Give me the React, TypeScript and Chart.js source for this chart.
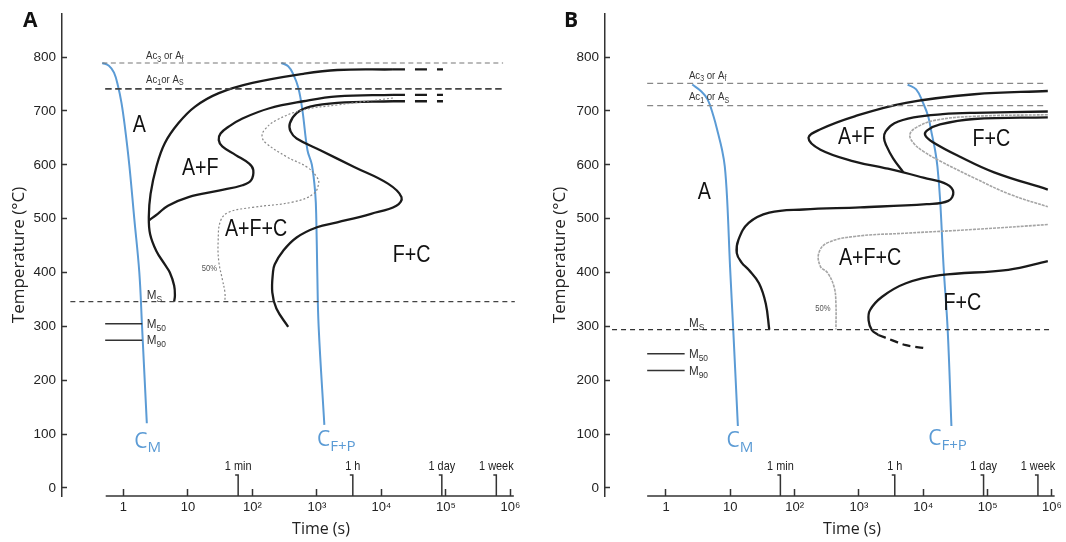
import React, { useEffect, useRef } from "react";
import { Chart, registerables } from "chart.js";

Chart.register(...registerables);

type Pt = [number, number];

// ---------- shared axis data ----------
const X_TICKS = [1, 10, 100, 1000, 10000, 100000, 1000000];
const X_TICK_LABELS = ["1", "10", "10²", "10³", "10⁴", "10⁵", "10⁶"];
const Y_TICKS = [0, 100, 200, 300, 400, 500, 600, 700, 800];
const TIME_MARKS = [60, 3600, 86400, 604800];
const TIME_MARK_LABELS = ["1 min", "1 h", "1 day", "1 week"];

// ---------- panel A data (time s, temperature °C) ----------
const A_TIME_AXIS = [0.53, 1130000];
const A_AC3: Pt[] = [[0.47, 789], [770000, 789]];
const A_AC1: Pt[] = [[0.52, 741], [770000, 741]];
const A_MS: Pt[] = [[0.15, 346], [1170000, 346]];
const A_M50: Pt[] = [[0.52, 305], [1.95, 305]];
const A_M90: Pt[] = [[0.52, 274], [1.95, 274]];
const A_CURVE_1: Pt[] = [[6.1, 346], [6.27, 357], [6.1, 376], [5.23, 400], [4.37, 415], [3.23, 440], [2.59, 471], [2.47, 503], [2.63, 546], [3.23, 596], [4.37, 640], [7.08, 677], [12.9, 708], [30.1, 733], [100, 752], [617, 769], [2065, 776], [15100, 777]];
const A_CURVE_2: Pt[] = [[15100, 730], [2065, 727], [617, 718], [184, 705], [70, 686], [43, 671], [32, 658], [30, 646], [34, 634], [55, 618], [89, 602], [103, 590], [95, 571], [70, 562], [30, 552], [10.2, 540], [4.9, 524], [3.4, 509], [2.5, 497]];
const A_CURVE_3: Pt[] = [[15100, 718], [2065, 715], [785, 708], [484, 696], [380, 677], [390, 662], [484, 649], [1127, 627], [3776, 596], [12620, 565], [20460, 540], [17060, 524], [6900, 509], [2065, 493], [1000, 484], [484, 465], [298, 440], [221, 415], [208, 400], [203, 363], [235, 333], [358, 299]];
const A_DASH_1: Pt[] = [[15100, 777], [90000, 777]];
const A_DASH_2: Pt[] = [[15100, 730], [90000, 730]];
const A_DASH_3: Pt[] = [[15100, 718], [90000, 718]];
const A_HALF: Pt[] = [[15100, 724], [2065, 711], [617, 702], [235, 683], [154, 665], [141, 652], [163, 640], [337, 615], [697, 596], [1000, 577], [1062, 565], [885, 546], [430, 531], [101, 521], [43, 512], [32, 496], [29.4, 459], [30, 421], [34, 388], [37.4, 363], [37.4, 346]];
const A_CM: Pt[] = [[0.468, 789], [0.594, 784], [0.713, 771], [0.824, 746], [0.931, 715], [1.05, 671], [1.23, 600], [1.47, 500], [1.76, 400], [1.94, 300], [2.3, 120]];
const A_CFP: Pt[] = [[281, 789], [358, 783], [430, 768], [514, 743], [594, 702], [713, 627], [834, 600], [942, 546], [977, 500], [1012, 400], [1062, 300], [1303, 117]];
const A_REGION_LABELS: [string, number, number][] = [["A", 1.76, 674], ["A+F", 15.5, 593], ["A+F+C", 114, 481], ["F+C", 29400, 431]];
const A_NOTE_LABELS: [string, number, number][] = [["Ac_{3} or A_{f}", 2.24, 802], ["Ac_{1}or A_{S}", 2.24, 758]];
const A_M_LABELS: [string, number, number][] = [["M_{S}", 2.3, 358], ["M_{50}", 2.3, 304], ["M_{90}", 2.3, 273]];
const A_PCT_LABELS: [string, number, number][] = [["50%", 21.4, 407]];
const A_BLUE_LABELS: [string, number, number][] = [["C_{M}", 1.47, 86], ["C_{F+P}", 1000, 89]];

// ---------- panel B data ----------
const B_TIME_AXIS = [0.51, 1100000];
const B_AC3: Pt[] = [[0.51, 751], [810000, 751]];
const B_AC1: Pt[] = [[0.51, 710], [810000, 710]];
const B_MS: Pt[] = [[0.145, 294], [1035000, 294]];
const B_M50: Pt[] = [[0.51, 249], [1.95, 249]];
const B_M90: Pt[] = [[0.51, 218], [1.95, 218]];
const B_CURVE_1: Pt[] = [[861000, 737], [62100, 731], [5370, 715], [857, 690], [252, 666], [164, 650], [252, 628], [857, 606], [2510, 594], [4900, 586], [10000, 576], [23070, 564], [29240, 549], [24430, 533], [11300, 527], [1040, 521], [137, 517], [40.3, 511], [19.3, 492], [13.4, 461], [12.6, 436], [15.1, 418], [19.3, 405], [27.9, 380], [35.6, 342], [40.3, 294]];
const B_CURVE_2: Pt[] = [[861000, 699], [62100, 696.5], [20000, 694], [7080, 688], [3550, 677], [2600, 662], [2450, 650], [2650, 636], [3390, 612], [4900, 586]];
const B_CURVE_3: Pt[] = [[861000, 688], [61700, 685], [18200, 675], [11500, 664], [10700, 655], [14100, 642], [37150, 615], [126000, 586], [861000, 554]];
const B_HALF_UPPER: Pt[] = [[861000, 693], [61700, 690], [15850, 683], [7940, 670], [6170, 656], [7080, 640], [10000, 625], [18200, 607], [63100, 575], [224000, 545], [861000, 522]];
const B_HALF_LOWER: Pt[] = [[861000, 489], [62100, 480], [5370, 473], [857, 467], [322, 455], [237, 436], [252, 411], [322, 400], [411, 373], [438, 342], [438, 294]];
const B_CURVE_4: Pt[] = [[861000, 421], [209000, 405], [18200, 395], [5370, 380], [2290, 355], [1480, 330], [1410, 311], [1585, 293], [1995, 284]];
const B_DASH_4: Pt[] = [[1995, 284], [3310, 274], [5370, 265], [10000, 260]];
const B_CM: Pt[] = [[2.56, 749], [3.48, 737], [4.45, 721], [5.48, 690], [6.43, 659], [7.43, 628], [8.2, 597], [8.93, 535], [9.9, 411], [11.1, 294], [13.1, 115]];
const B_CFP: Pt[] = [[5710, 749], [7740, 740], [9910, 715], [11900, 690], [13450, 659], [15200, 628], [16560, 597], [18240, 535], [20650, 411], [23900, 294], [27350, 115]];
const B_REGION_LABELS: [string, number, number][] = [["A", 3.94, 548], ["A+F", 912, 650], ["F+C", 114000, 647], ["A+F+C", 1486, 427], ["F+C", 40400, 342]];
const B_NOTE_LABELS: [string, number, number][] = [["Ac_{3} or A_{f}", 2.27, 766], ["Ac_{1} or A_{S}", 2.27, 726]];
const B_M_LABELS: [string, number, number][] = [["M_{S}", 2.27, 305], ["M_{50}", 2.27, 247], ["M_{90}", 2.27, 217]];
const B_PCT_LABELS: [string, number, number][] = [["50%", 275, 333]];
const B_BLUE_LABELS: [string, number, number][] = [["C_{M}", 8.7, 87], ["C_{F+P}", 11900, 90]];

// ---------- styles ----------
const NARROW = '"Liberation Sans", Arial, sans-serif';
const SANS = '"Open Sans", "Liberation Sans", sans-serif';
const BLUE = "#5b9bd5";
const INK = "#1a1a1a";

function line(data: Pt[], color: string, width: number, dash: number[] = [], tension = 0.4) {
  return {
    data: data.map(([x, y]) => ({ x, y })),
    showLine: true,
    borderColor: color,
    backgroundColor: color,
    borderWidth: width,
    borderDash: dash,
    pointRadius: 0,
    pointHoverRadius: 0,
    tension,
    fill: false,
  };
}

function drawRich(
  ctx: CanvasRenderingContext2D,
  text: string,
  x: number,
  y: number,
  size: number,
  family: string,
  color: string,
  align: string,
  squeeze = 1
) {
  const segs = text
    .split(/(_\{[^}]*\})/)
    .filter((s) => s.length)
    .map((p) => (p.startsWith("_{") ? { t: p.slice(2, -1), sub: true } : { t: p, sub: false }));
  const fnt = (s: boolean) => `${s ? size * 0.72 : size}px ${family}`;
  let total = 0;
  const widths = segs.map((s) => {
    ctx.font = fnt(s.sub);
    const w = ctx.measureText(s.t).width;
    total += w;
    return w;
  });
  const start = align === "center" ? -total / 2 : align === "right" ? -total : 0;
  ctx.save();
  ctx.translate(x, y);
  ctx.scale(squeeze, 1);
  ctx.fillStyle = color;
  ctx.textBaseline = "middle";
  ctx.textAlign = "left";
  let cx = start;
  segs.forEach((s, i) => {
    ctx.font = fnt(s.sub);
    ctx.fillText(s.t, cx, s.sub ? size * 0.3 : 0);
    cx += widths[i];
  });
  ctx.restore();
}

type Panel = {
  canvasLeft: number;
  canvasWidth: number;
  yWidth: number;
  padRight: number;
  yTitlePad: number;
  xMin: number;
  xMax: number;
  axis: number[];
  letter: string;
  letterX: number;
  datasets: any[];
  regions: [string, number, number][];
  notes: [string, number, number][];
  mLabels: [string, number, number][];
  pct: [string, number, number][];
  blue: [string, number, number][];
};

const PANEL_A: Panel = {
  canvasLeft: 0,
  canvasWidth: 600,
  yWidth: 62,
  padRight: 20,
  yTitlePad: 9,
  xMin: 0.1113,
  xMax: 12000000,
  axis: A_TIME_AXIS,
  letter: "A",
  letterX: 23,
  datasets: [
    line(A_AC3, "#777", 1.2, [5, 3.5], 0),
    line(A_AC1, "#444", 1.6, [6.5, 3.5], 0),
    line(A_MS, "#444", 1.3, [5, 4], 0),
    line(A_M50, "#333", 1.5, [], 0),
    line(A_M90, "#333", 1.5, [], 0),
    line(A_HALF, "#888", 1.2, [2, 2]),
    line(A_CURVE_1, INK, 2.3),
    line(A_CURVE_2, INK, 2.3),
    line(A_CURVE_3, INK, 2.3),
    line(A_DASH_1, INK, 2.3, [12, 10], 0),
    line(A_DASH_2, INK, 2.3, [12, 10], 0),
    line(A_DASH_3, INK, 2.3, [12, 10], 0),
    line(A_CM, BLUE, 2),
    line(A_CFP, BLUE, 2),
  ],
  regions: A_REGION_LABELS,
  notes: A_NOTE_LABELS,
  mLabels: A_M_LABELS,
  pct: A_PCT_LABELS,
  blue: A_BLUE_LABELS,
};

const PANEL_B: Panel = {
  canvasLeft: 533,
  canvasWidth: 580,
  yWidth: 72,
  padRight: 14,
  yTitlePad: 17,
  xMin: 0.1127,
  xMax: 5380000,
  axis: B_TIME_AXIS,
  letter: "B",
  letterX: 31,
  datasets: [
    line(B_AC3, "#888", 1.3, [6, 4], 0),
    line(B_AC1, "#888", 1.3, [6, 4], 0),
    line(B_MS, "#333", 1.3, [5, 4], 0),
    line(B_M50, "#333", 1.5, [], 0),
    line(B_M90, "#333", 1.5, [], 0),
    line(B_HALF_UPPER, "#a5a5a5", 1.6, [3, 1]),
    line(B_HALF_LOWER, "#a5a5a5", 1.6, [3, 1]),
    line(B_CURVE_1, INK, 2.3),
    line(B_CURVE_2, INK, 2.3),
    line(B_CURVE_3, INK, 2.3),
    line(B_CURVE_4, INK, 2.3),
    line(B_DASH_4, INK, 2.3, [8, 5]),
    line(B_CM, BLUE, 2),
    line(B_CFP, BLUE, 2),
  ],
  regions: B_REGION_LABELS,
  notes: B_NOTE_LABELS,
  mLabels: B_M_LABELS,
  pct: B_PCT_LABELS,
  blue: B_BLUE_LABELS,
};

function annotations(p: Panel) {
  return {
    id: "annotations" + p.letter,
    afterDatasetsDraw(chart: any) {
      const { ctx, chartArea, scales } = chart;
      const x = scales.x;
      const y = scales.y;
      ctx.save();
      ctx.setLineDash([]);
      ctx.strokeStyle = "#333";
      ctx.lineWidth = 1.5;
      const by = chartArea.bottom;
      // time axis baseline
      ctx.beginPath();
      ctx.moveTo(x.getPixelForValue(p.axis[0]), by);
      ctx.lineTo(x.getPixelForValue(p.axis[1]), by);
      ctx.stroke();
      // time markers
      TIME_MARKS.forEach((v, i) => {
        const px = x.getPixelForValue(v);
        ctx.beginPath();
        ctx.moveTo(px, by);
        ctx.lineTo(px, by - 21);
        ctx.lineTo(px - 3, by - 21);
        ctx.stroke();
        drawRich(ctx, TIME_MARK_LABELS[i], px, by - 30, 13, NARROW, "#222", "center", 0.84);
      });
      const at = (t: number, T: number) => [x.getPixelForValue(t), y.getPixelForValue(T)];
      p.regions.forEach(([s, t, T]) => {
        const [px, py] = at(t, T);
        drawRich(ctx, s, px, py, 24, NARROW, "#111", "center", 0.82);
      });
      p.notes.forEach(([s, t, T]) => {
        const [px, py] = at(t, T);
        drawRich(ctx, s, px, py, 11.5, NARROW, "#333", "left", 0.84);
      });
      p.mLabels.forEach(([s, t, T]) => {
        const [px, py] = at(t, T);
        drawRich(ctx, s, px, py, 13, NARROW, "#333", "left", 0.9);
      });
      p.pct.forEach(([s, t, T]) => {
        const [px, py] = at(t, T);
        drawRich(ctx, s, px, py, 9, NARROW, "#555", "center", 0.85);
      });
      p.blue.forEach(([s, t, T]) => {
        const [px, py] = at(t, T);
        drawRich(ctx, s, px, py, 21, SANS, BLUE, "left");
      });
      // panel letter
      ctx.font = `bold 21px ${SANS}`;
      ctx.fillStyle = "#111";
      ctx.textAlign = "left";
      ctx.textBaseline = "middle";
      ctx.fillText(p.letter, p.letterX, 21);
      ctx.restore();
    },
  };
}

function makeConfig(p: Panel): any {
  return {
    type: "scatter",
    data: { datasets: p.datasets },
    plugins: [annotations(p)],
    options: {
      responsive: false,
      animation: false,
      devicePixelRatio: 1,
      events: [],
      layout: { padding: { left: 0, top: 14, right: p.padRight, bottom: 0 } },
      plugins: { legend: { display: false }, tooltip: { enabled: false }, title: { display: false } },
      scales: {
        x: {
          type: "logarithmic",
          min: p.xMin,
          max: p.xMax,
          border: { display: false },
          grid: { display: true, drawOnChartArea: false, drawTicks: true, tickLength: -7, tickColor: "#333", tickWidth: 1.5 },
          ticks: {
            autoSkip: false,
            maxRotation: 0,
            padding: 11,
            color: "#222",
            font: { family: NARROW, size: 13 },
            callback: (_v: any, i: number) => X_TICK_LABELS[i],
          },
          afterBuildTicks: (s: any) => {
            s.ticks = X_TICKS.map((v) => ({ value: v }));
          },
          afterFit: (s: any) => {
            s.height = 46;
            s.paddingLeft = 0;
            s.paddingRight = 0;
          },
          title: { display: true, text: "Time (s)", color: "#222", font: { family: SANS, size: 16 }, padding: { top: 0, bottom: 3 } },
        },
        y: {
          type: "linear",
          min: -15,
          max: 880,
          border: { display: true, color: "#333", width: 1.5 },
          grid: { display: true, drawOnChartArea: false, drawTicks: true, tickLength: -5, tickColor: "#333", tickWidth: 1.5 },
          ticks: { padding: 11, color: "#222", font: { family: NARROW, size: 13.5 } },
          afterBuildTicks: (s: any) => {
            s.ticks = Y_TICKS.map((v) => ({ value: v }));
          },
          afterFit: (s: any) => {
            s.width = p.yWidth;
            s.paddingTop = 0;
            s.paddingBottom = 0;
          },
          title: { display: true, text: "Temperature (°C)", color: "#222", font: { family: SANS, size: 17 }, padding: { top: p.yTitlePad, bottom: 0 } },
        },
      },
    },
  };
}

function PanelChart({ panel }: { panel: Panel }) {
  const ref = useRef<HTMLCanvasElement | null>(null);
  useEffect(() => {
    if (!ref.current) return;
    const chart = new Chart(ref.current, makeConfig(panel));
    return () => chart.destroy();
  }, [panel]);
  return (
    <canvas
      ref={ref}
      width={panel.canvasWidth}
      height={542}
      style={{ position: "absolute", left: panel.canvasLeft, top: 0, width: panel.canvasWidth, height: 542 }}
    />
  );
}

export default function App() {
  return (
    <div style={{ position: "absolute", left: 0, top: 0, width: 1066, height: 542, overflow: "hidden", background: "#fff" }}>
      <PanelChart panel={PANEL_A} />
      <PanelChart panel={PANEL_B} />
    </div>
  );
}
